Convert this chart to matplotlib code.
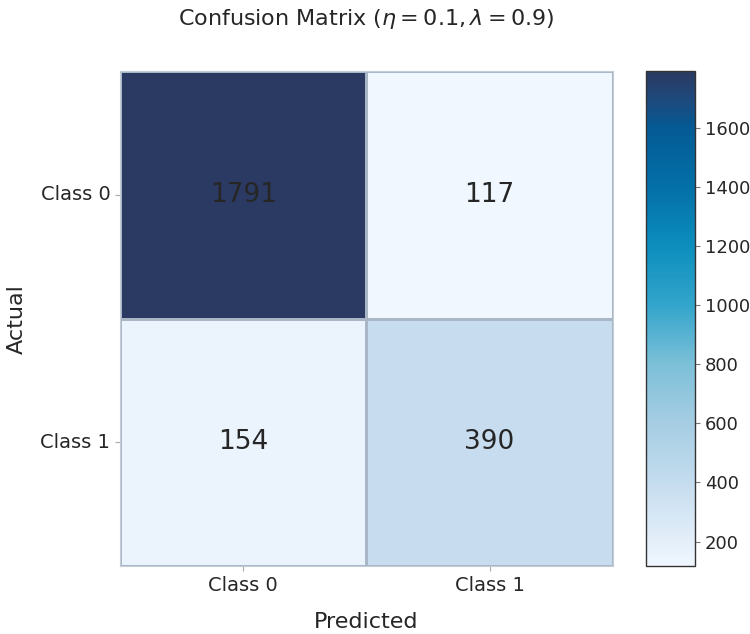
import numpy as np
import matplotlib
matplotlib.use("Agg")
import matplotlib.pyplot as plt
import seaborn as sns
from matplotlib.colors import LinearSegmentedColormap

# Dados da matriz de confusão
classes = ["Class 0", "Class 1"]
row_class0 = [1791, 117]
row_class1 = [154, 390]
cm = np.array([row_class0, row_class1])
cbar_ticks = [200, 400, 600, 800, 1000, 1200, 1400, 1600]

# Paleta azul (claro -> marinho)
cmap = LinearSegmentedColormap.from_list(
    "conf_blues",
    [(0.0, "#f0f7fe"), (0.022, "#eaf3fc"), (0.163, "#c6ddef"),
     (0.289, "#a5cde3"), (0.408, "#7cc0d8"), (0.527, "#33a5cb"),
     (0.647, "#0c8ebd"), (0.766, "#0470a8"), (0.886, "#045a95"),
     (0.94, "#1d4a7e"), (1.0, "#2b3a62")],
)

sns.set_style("white")
plt.rcParams['font.family'] = ['DejaVu Sans']

fig = plt.figure(figsize=(7.5, 6.34), dpi=100)
ax = fig.add_axes([0.16, 0.107, 0.657, 0.781])
cax = fig.add_axes([0.861, 0.107, 0.066, 0.781])

sns.heatmap(cm, annot=True, fmt="d", cmap=cmap, ax=ax, cbar_ax=cax,
            linewidths=0.8, linecolor="#a9b6c6",
            annot_kws={"size": 19, "color": "#262626"},
            xticklabels=classes, yticklabels=classes)

for s in ax.spines.values():
    s.set_visible(True)
    s.set_color("#c4ccd6")
    s.set_linewidth(0.8)

ax.tick_params(axis="both", length=3.5, width=0.8, color="#aaaaaa",
               labelsize=14, labelcolor="#262626", bottom=True, left=True)
plt.setp(ax.get_yticklabels(), rotation=0)
ax.set_xlabel("Predicted", fontsize=16, color="#262626", labelpad=12)
ax.set_ylabel("Actual", fontsize=16, color="#262626", labelpad=10)
ax.set_title(r"Confusion Matrix ($\eta = 0.1, \lambda = 0.9$)", fontsize=16,
             color="#262626", pad=33)

cbar = ax.collections[0].colorbar
cbar.set_ticks(cbar_ticks)
cbar.ax.tick_params(labelsize=13, length=3.5, width=0.8, color="#777777",
                    labelcolor="#262626", right=True)
cbar.outline.set_visible(True)
cbar.outline.set_edgecolor("#333333")
cbar.outline.set_linewidth(1)

fig.savefig("out.png", dpi=100)
